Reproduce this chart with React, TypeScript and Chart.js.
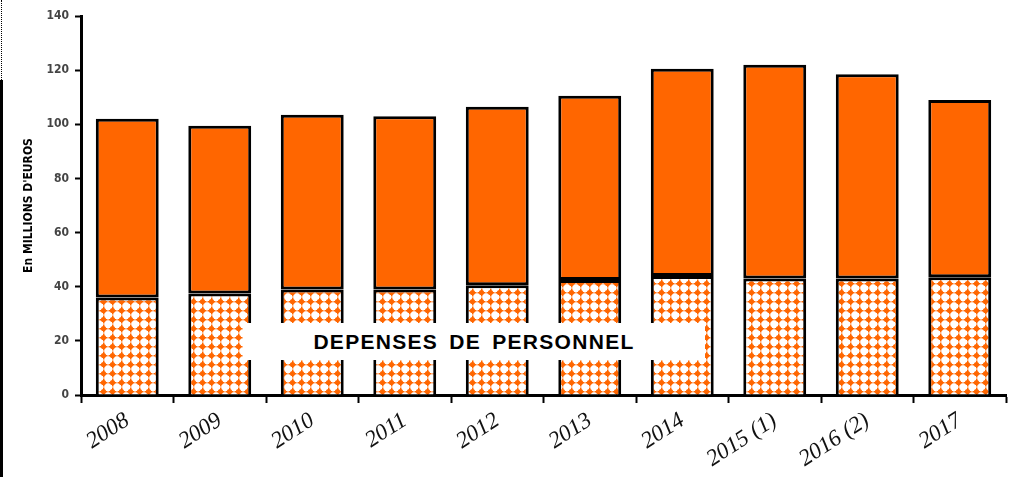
import React, { useEffect, useRef } from "react";
import { Chart, registerables } from "chart.js";

Chart.register(...registerables);

const categories = ["2008", "2009", "2010", "2011", "2012", "2013", "2014", "2015 (1)", "2016 (2)", "2017"];
const personnel = [36, 37.5, 39, 39, 40.5, 42.5, 44, 43, 43, 43.5];
const totals = [102, 99.5, 103.5, 103, 106.5, 110.5, 120.5, 122, 118.5, 109];
const autres = totals.map((t, i) => +(t - personnel[i]).toFixed(1));
const yTicks = [0, 20, 40, 60, 80, 100, 120, 140];
const yTitle = "En MILLIONS D'EUROS";
const boxLabel = "DEPENSES DE PERSONNEL";

const ORANGE = "#FF6600";

function makePattern(): CanvasPattern | string {
  const c = document.createElement("canvas");
  c.width = 9;
  c.height = 9;
  const ctx = c.getContext("2d");
  if (!ctx) return ORANGE;
  ctx.fillStyle = "#ffffff";
  ctx.fillRect(0, 0, 9, 9);
  ctx.fillStyle = ORANGE;
  ctx.beginPath();
  ctx.arc(4.5, 4.5, 2.6, 0, Math.PI * 2);
  ctx.fill();
  ctx.fillRect(0.5, 4, 8, 1.5);
  ctx.fillRect(4, 0.5, 1.5, 8);
  const p = ctx.createPattern(c, "repeat");
  return p || ORANGE;
}

export default function App() {
  const ref = useRef<HTMLCanvasElement>(null);

  useEffect(() => {
    if (!ref.current) return;
    const pattern = makePattern();
    const chart = new Chart(ref.current, {
      type: "bar",
      data: {
        labels: categories,
        datasets: [
          {
            label: "Dépenses de personnel",
            data: personnel,
            backgroundColor: pattern as any,
            borderColor: "#000000",
            borderWidth: 3,
            borderSkipped: "bottom",
            categoryPercentage: 0.68,
            barPercentage: 1,
          },
          {
            label: "Autres dépenses",
            data: autres,
            backgroundColor: ORANGE,
            borderColor: "#000000",
            borderWidth: 3,
            borderSkipped: false,
            categoryPercentage: 0.68,
            barPercentage: 1,
          },
        ],
      },
      options: {
        animation: false,
        responsive: false,
        maintainAspectRatio: false,
        layout: { padding: { left: 22, top: 16, right: 6, bottom: 0 } },
        plugins: { legend: { display: false }, tooltip: { enabled: false } },
        scales: {
          x: {
            stacked: true,
            grid: {
              display: true,
              drawOnChartArea: false,
              drawTicks: true,
              tickLength: 8,
              tickWidth: 2,
              tickColor: "#000",
            },
            border: { display: true, color: "#000", width: 3 },
            ticks: {
              color: "#111",
              minRotation: 33,
              maxRotation: 33,
              autoSkip: false,
              padding: 4,
              font: { family: "'Liberation Serif', serif", style: "italic", size: 23 },
            },
            afterFit: (s: any) => {
              s.height = 82;
            },
          },
          y: {
            stacked: true,
            min: 0,
            max: 140,
            afterBuildTicks: (s: any) => {
              s.ticks = yTicks.map((v) => ({ value: v }));
            },
            grid: {
              display: true,
              drawOnChartArea: false,
              drawTicks: true,
              tickLength: 6,
              tickWidth: 2,
              tickColor: "#000",
            },
            border: { display: true, color: "#000", width: 3 },
            ticks: {
              color: "#444",
              padding: 6,
              font: { family: "'Liberation Sans Narrow', 'DejaVu Sans Condensed', sans-serif", weight: "bold", size: 12 },
            },
            title: {
              display: true,
              text: yTitle,
              color: "#000",
              padding: { top: 0, bottom: 4 },
              font: { family: "'Liberation Sans Narrow', 'DejaVu Sans Condensed', sans-serif", weight: "bold", size: 12 },
            },
            afterFit: (s: any) => {
              s.width = 59;
            },
          },
        },
      },
    });
    return () => chart.destroy();
  }, []);

  return (
    <div style={{ position: "absolute", left: 0, top: 0, width: 1012, height: 477, background: "#fff", overflow: "hidden" }}>
      <canvas ref={ref} width={1012} height={477} style={{ display: "block" }} />
      <div style={{ position: "absolute", left: 0, top: 80, width: 3, height: 397, background: "#000" }} />
      <div style={{ position: "absolute", left: 1, top: 0, width: 0, height: 80, borderLeft: "1px dotted #000" }} />
      <div
        style={{
          position: "absolute",
          left: 243,
          top: 323,
          width: 462,
          height: 37,
          background: "#fff",
          display: "flex",
          alignItems: "center",
          justifyContent: "center",
          fontFamily: "'Liberation Sans', Arial, sans-serif",
          fontWeight: "bold",
          fontSize: 21,
          letterSpacing: 1.3,
          wordSpacing: 4,
          color: "#000",
        }}
      >
        {boxLabel}
      </div>
    </div>
  );
}
